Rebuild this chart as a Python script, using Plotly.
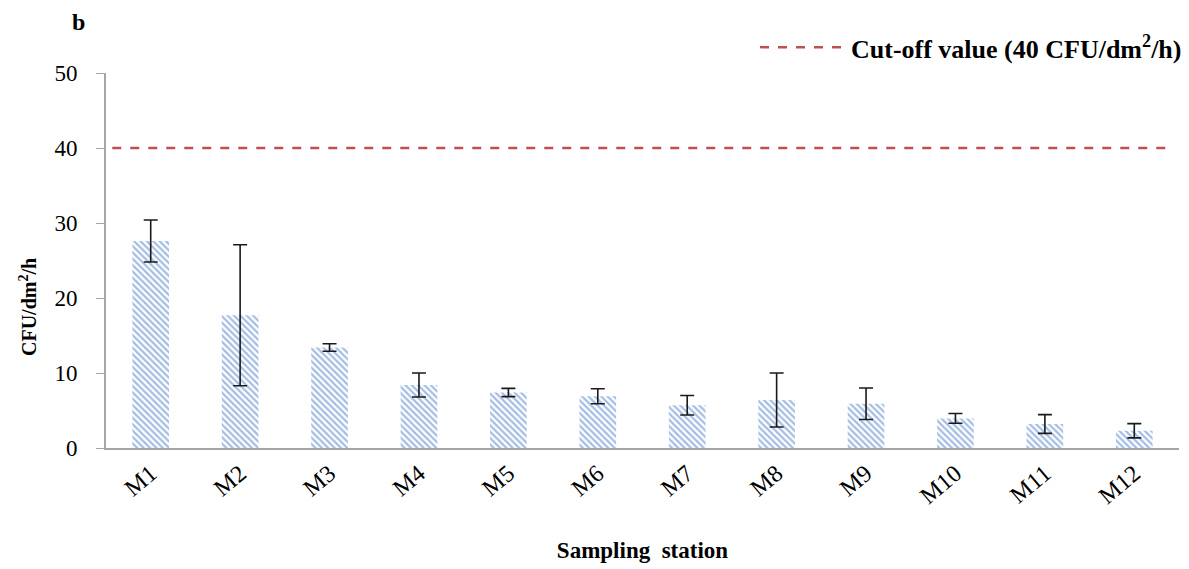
import plotly.graph_objects as go

stations = ["M1", "M2", "M3", "M4", "M5", "M6", "M7", "M8", "M9", "M10", "M11", "M12"]
cfu_mean = [27.6, 17.7, 13.4, 8.4, 7.4, 6.9, 5.7, 6.4, 5.9, 3.95, 3.2, 2.3]
cfu_err = [2.8, 9.4, 0.5, 1.6, 0.55, 1.0, 1.3, 3.6, 2.1, 0.65, 1.25, 0.95]
cutoff = 40
y_ticks = [0, 10, 20, 30, 40, 50]

serif = "Liberation Serif, Times New Roman, serif"
red = "#c0504d"

fig = go.Figure()
fig.add_trace(go.Bar(
    x=stations, y=cfu_mean, width=0.41,
    marker=dict(color="white", line=dict(width=0),
                pattern=dict(shape="\\", fgcolor="#4a7cc8", bgcolor="white", size=4.5, solidity=0.5)),
    error_y=dict(type="data", array=cfu_err, visible=True, color="#1a1a1a", thickness=1.6, width=7),
    showlegend=False,
))

fig.add_shape(type="line", xref="x", yref="y", x0=-0.43, x1=11.38, y0=cutoff, y1=cutoff,
              line=dict(color=red, width=2.5, dash="dash"))
# manual legend
fig.add_shape(type="line", xref="paper", yref="paper", x0=0.6095, x1=0.6887, y0=1.069, y1=1.069,
              line=dict(color=red, width=2.5, dash="dash"))
fig.add_annotation(xref="paper", yref="paper", x=1.004, y=1.069, xanchor="right", yanchor="middle",
                   text="<b>Cut-off value (40 CFU/dm<sup>2</sup>/h)</b>", showarrow=False,
                   font=dict(family=serif, size=26, color="black"))
fig.add_annotation(xref="paper", yref="paper", x=-0.026, y=1.136, xanchor="center", yanchor="middle",
                   text="<b>b</b>", showarrow=False, font=dict(family=serif, size=24, color="black"))
# y-axis title (placed lower than centre, as in the reference)
fig.add_annotation(xref="paper", yref="paper", x=-0.0727, y=0.376, xanchor="center", yanchor="middle",
                   text="<b>CFU/dm<sup>2</sup>/h</b>", textangle=-90, showarrow=False,
                   font=dict(family=serif, size=20, color="black"))

fig.update_layout(
    width=1189, height=569,
    margin=dict(l=98, r=18, t=65, b=129),
    plot_bgcolor="white", paper_bgcolor="white",
    font=dict(family=serif, size=22, color="black"),
)
fig.update_xaxes(
    showline=True, linecolor="#a6a6a6", linewidth=2, ticks="", tickangle=-40,
    tickfont=dict(family=serif, size=24),
    title=dict(text="<b>Sampling  station</b>", font=dict(family=serif, size=23), standoff=34),
    showgrid=False,
)
fig.update_yaxes(
    range=[0, 50], tickvals=y_ticks, showline=True, linecolor="#a6a6a6", linewidth=2,
    ticks="outside", ticklen=8, tickcolor="#a6a6a6", showgrid=False, zeroline=False,
    tickfont=dict(family=serif, size=23), ticklabelstandoff=14,
)

fig.write_html("out.html")
